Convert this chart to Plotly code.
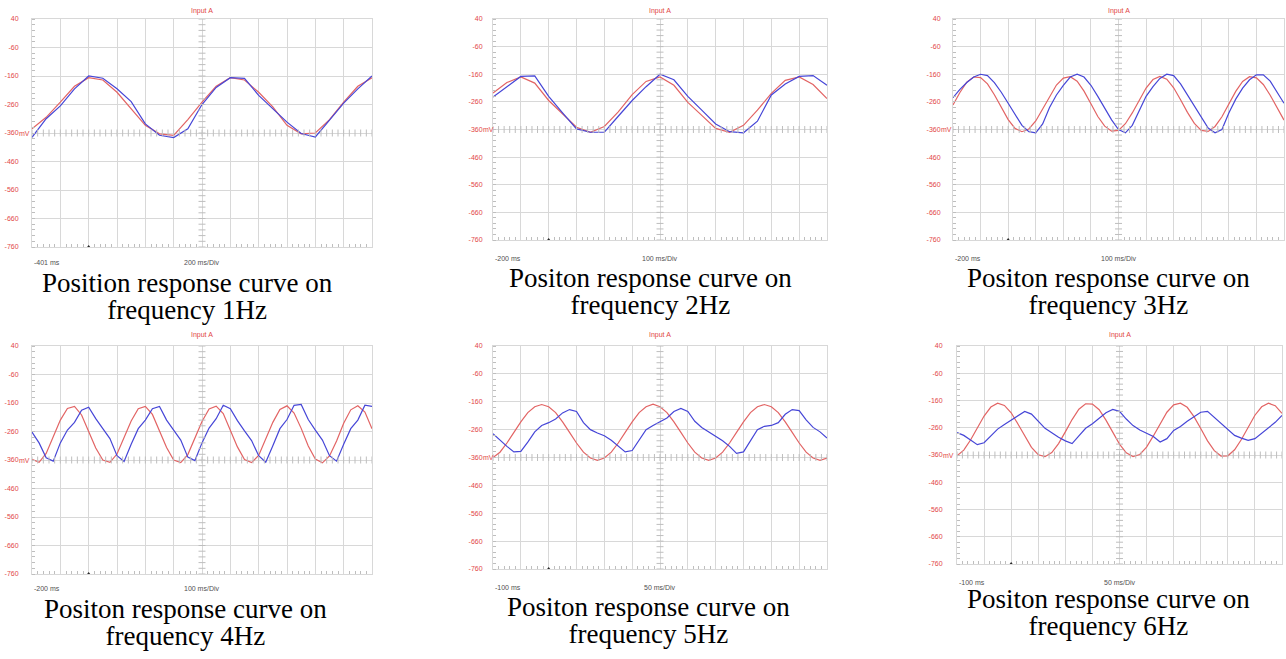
import plotly.graph_objects as go

W, H = 1286, 659

# ---------------- data (mV), one sample every "step" ms ----------------
# Panel 1: 1 Hz, 200 ms/Div, start -401 ms, sample every 100 ms
p1_t0, p1_div, p1_step = -401, 200, 100
p1_red = [-345, -305, -252, -196, -166, -174, -217, -277, -333, -363, -368, -313,
          -252, -196, -166, -174, -217, -268, -333, -363, -360, -313, -252, -196, -166]
p1_blue = [-375, -310, -265, -205, -160, -168, -205, -250, -328, -368, -376, -345,
           -260, -200, -166, -168, -228, -275, -322, -362, -374, -315, -255, -205, -160]

# Panel 2: 2 Hz, 100 ms/Div, start -200 ms, sample every 50 ms
p2_t0, p2_div, p2_step = -200, 100, 50
p2_red = [-228, -190, -170, -192, -255, -303, -352, -370, -349, -296, -234, -186,
          -170, -200, -262, -309, -356, -370, -345, -290, -229, -182, -170, -197, -248]
p2_blue = [-242, -205, -168, -166, -240, -300, -358, -370, -370, -312, -255, -205,
           -160, -180, -240, -290, -340, -368, -372, -330, -235, -195, -168, -165, -200]

# Panel 3: 3 Hz, 100 ms/Div, start -200 ms, sample every 25 ms
p3_t0, p3_div, p3_step = -200, 100, 25
p3_red = [-271, -226, -189, -170, -172, -195, -234, -281, -324, -356, -368, -358,
          -329, -286, -240, -199, -174, -169, -185, -221, -267, -313, -348, -366,
          -363, -339, -300, -253, -210, -179, -168, -178, -209, -252, -298, -338,
          -363, -367, -349, -314, -268, -222, -186, -169, -173, -197, -236, -283, -326]
p3_blue = [-245, -215, -190, -170, -160, -165, -190, -225, -265, -305, -345, -368,
           -372, -340, -280, -235, -200, -170, -160, -170, -200, -240, -285, -325,
           -360, -372, -345, -290, -240, -205, -175, -160, -165, -195, -235, -280,
           -320, -355, -372, -360, -300, -250, -210, -180, -162, -162, -185, -225, -265]

# Panel 4: 4 Hz, 100 ms/Div, start -200 ms, sample every 25 ms
p4_t0, p4_div, p4_step = -200, 100, 25
p4_red = [-358, -368, -337, -281, -220, -179, -172, -202, -258, -318, -360, -368,
          -339, -283, -223, -180, -172, -200, -256, -316, -360, -369, -341, -285,
          -225, -181, -171, -197, -253, -314, -358, -369, -344, -289, -228, -183,
          -170, -195, -249, -311, -357, -370, -346, -293, -231, -184, -170, -192, -250]
p4_blue = [-262, -300, -352, -364, -300, -255, -228, -185, -175, -215, -250, -285,
           -345, -365, -305, -250, -220, -180, -172, -220, -255, -290, -350, -362,
           -300, -248, -215, -168, -180, -222, -258, -292, -345, -368, -310, -250,
           -218, -168, -165, -218, -255, -290, -345, -364, -305, -250, -220, -168, -172]

# Panel 5: 5 Hz, 50 ms/Div, start -100 ms, sample every 12.5 ms
p5_t0, p5_div, p5_step = -100, 50, 12.5
p5_red = [-360, -341, -308, -270, -232, -199, -178, -170, -178, -199, -232, -270,
          -308, -341, -362, -370, -362, -341, -308, -270, -232, -199, -178, -169,
          -178, -199, -232, -270, -308, -341, -362, -370, -362, -341, -308, -270,
          -232, -199, -178, -170, -178, -199, -232, -270, -308, -341, -362, -370, -362]
p5_blue = [-275, -298, -320, -340, -338, -305, -268, -245, -235, -222, -200, -188,
           -195, -235, -260, -272, -282, -298, -320, -340, -335, -295, -260, -245,
           -232, -218, -195, -184, -195, -230, -252, -268, -283, -300, -320, -345,
           -340, -300, -260, -248, -245, -235, -205, -188, -192, -225, -252, -268, -290]

# Panel 6: 6 Hz, 50 ms/Div, start -100 ms, sample every 12.5 ms
p6_t0, p6_div, p6_step = -100, 50, 12.5
p6_red = [-363, -342, -305, -260, -217, -184, -170, -178, -205, -246, -291, -332,
          -359, -366, -351, -318, -275, -230, -192, -172, -173, -194, -232, -277,
          -320, -352, -366, -358, -331, -290, -244, -203, -176, -170, -185, -219,
          -263, -308, -344, -364, -363, -341, -303, -258, -214, -183, -170, -179, -207]
p6_blue = [-278, -288, -305, -322, -315, -290, -265, -248, -232, -215, -200, -210,
           -238, -262, -278, -295, -308, -318, -290, -262, -245, -226, -205, -193,
           -200, -228, -252, -268, -280, -292, -312, -300, -270, -255, -236, -220,
           -203, -200, -222, -245, -268, -288, -298, -306, -300, -280, -262, -240, -215]

y_ticks = [40, -60, -160, -260, -360, -460, -560, -660, -760]
y_tick_text = ["40", "-60", "-160", "-260", "-360", "-460", "-560", "-660", "-760"]

captions = [
    ("Position response curve on", "frequency 1Hz"),
    ("Positon response curve on", "frequency 2Hz"),
    ("Positon response curve on", "frequency 3Hz"),
    ("Positon response curve on", "frequency 4Hz"),
    ("Positon response curve on", "frequency 5Hz"),
    ("Positon response curve on", "frequency 6Hz"),
]

panels = [
    dict(t0=p1_t0, div=p1_div, step=p1_step, red=p1_red, blue=p1_blue, start="-401 ms", scale="200 ms/Div",
         box=(32, 372, 19, 247), gap=14, title_y=11, lab_y=262, cap_x=187, cap_y=297),
    dict(t0=p2_t0, div=p2_div, step=p2_step, red=p2_red, blue=p2_blue, start="-200 ms", scale="100 ms/Div",
         box=(493, 827, 19, 240), gap=11, title_y=11, lab_y=258, cap_x=650, cap_y=292),
    dict(t0=p3_t0, div=p3_div, step=p3_step, red=p3_red, blue=p3_blue, start="-200 ms", scale="100 ms/Div",
         box=(953, 1284, 19, 240), gap=13, title_y=11, lab_y=258, cap_x=1108, cap_y=292),
    dict(t0=p4_t0, div=p4_div, step=p4_step, red=p4_red, blue=p4_blue, start="-200 ms", scale="100 ms/Div",
         box=(32, 372, 346, 574), gap=14, title_y=335, lab_y=588, cap_x=185, cap_y=622),
    dict(t0=p5_t0, div=p5_div, step=p5_step, red=p5_red, blue=p5_blue, start="-100 ms", scale="50 ms/Div",
         box=(493, 827, 346, 569), gap=11, title_y=335, lab_y=587, cap_x=648, cap_y=620),
    dict(t0=p6_t0, div=p6_div, step=p6_step, red=p6_red, blue=p6_blue, start="-100 ms", scale="50 ms/Div",
         box=(957, 1282, 346, 564), gap=15, title_y=335, lab_y=582, cap_x=1108, cap_y=612),
]

RED_TXT = "rgb(226,70,70)"
RED_LINE = "rgb(226,100,100)"
BLUE_LINE = "rgb(70,70,215)"
GRID = "rgb(216,216,216)"
TICK = "rgb(190,190,190)"
LAB = "rgb(80,80,80)"

fig = go.Figure()
annotations = []


def px(x):
    return x / W


def py(y):
    return 1 - y / H


for i, p in enumerate(panels, start=1):
    xa = "x" if i == 1 else f"x{i}"
    ya = "y" if i == 1 else f"y{i}"
    t0, div, step = p["t0"], p["div"], p["step"]
    t_end = t0 + 12 * div
    times = [t0 + k * step for k in range(len(p["red"]))]
    fig.add_trace(go.Scatter(x=times, y=p["red"], mode="lines", xaxis=xa, yaxis=ya,
                             line=dict(color=RED_LINE, width=1.2), showlegend=False, hoverinfo="skip"))
    fig.add_trace(go.Scatter(x=times, y=p["blue"], mode="lines", xaxis=xa, yaxis=ya,
                             line=dict(color=BLUE_LINE, width=1.2), showlegend=False, hoverinfo="skip"))
    # centre cross minor ticks
    tc = t0 + 6 * div
    mx = [t0 + k * div / 5 for k in range(61)]
    fig.add_trace(go.Scatter(x=mx, y=[-360] * len(mx), mode="markers", xaxis=xa, yaxis=ya,
                             marker=dict(symbol="line-ns", size=5, line=dict(color=TICK, width=1)),
                             showlegend=False, hoverinfo="skip"))
    my = [-760 + k * 20 for k in range(41)]
    fig.add_trace(go.Scatter(x=[tc] * len(my), y=my, mode="markers", xaxis=xa, yaxis=ya,
                             marker=dict(symbol="line-ew", size=5, line=dict(color=TICK, width=1)),
                             showlegend=False, hoverinfo="skip"))
    # trigger marker
    fig.add_trace(go.Scatter(x=[t0 + 2 * div], y=[-760], mode="markers", xaxis=xa, yaxis=ya, cliponaxis=False,
                             marker=dict(symbol="triangle-up", size=4, color="rgb(40,40,40)"),
                             showlegend=False, hoverinfo="skip"))

    x0, x1, y0, y1 = p["box"]
    fig.update_layout(**{
        ("xaxis" if i == 1 else f"xaxis{i}"): dict(
            domain=[px(x0), px(x1)], anchor=ya, range=[t0, t_end], tick0=t0, dtick=div,
            showticklabels=False, showgrid=True, gridcolor=GRID, gridwidth=1, zeroline=False,
            showline=True, linecolor=GRID, mirror=True, ticks="", automargin=False,
            minor=dict(ticks="inside", dtick=div / 5, tick0=t0, ticklen=3, tickcolor=TICK, showgrid=False),
        ),
        ("yaxis" if i == 1 else f"yaxis{i}"): dict(
            domain=[py(y1), py(y0)], anchor=xa, range=[-760, 40], tickmode="array",
            tickvals=y_ticks, ticktext=y_tick_text, tickfont=dict(size=7, color=RED_TXT, family="Liberation Sans"),
            ticklabelstandoff=p["gap"] - 3, automargin=False,
            showgrid=True, gridcolor=GRID, gridwidth=1, zeroline=False,
            showline=True, linecolor=GRID, mirror=True, ticks="", ticklen=0,
            minor=dict(ticks="inside", dtick=20, tick0=40, ticklen=3, tickcolor=TICK, showgrid=False),
        ),
    })
    xm = (x0 + x1) / 2
    y360 = y0 + (40 - (-360)) / 800 * (y1 - y0)
    annotations.append(dict(x=px(x0 - p["gap"]), y=py(y360), xref="paper", yref="paper", text="mV",
                            showarrow=False, font=dict(size=7, color=RED_TXT, family="Liberation Sans"),
                            xanchor="left", yanchor="middle", xshift=-1))
    annotations.append(dict(x=px(xm), y=py(p["title_y"]), xref="paper", yref="paper", text="Input A",
                            showarrow=False, font=dict(size=7, color=RED_TXT, family="Liberation Sans"),
                            xanchor="center", yanchor="middle"))
    annotations.append(dict(x=px(x0), y=py(p["lab_y"]), xref="paper", yref="paper", text=p["start"],
                            showarrow=False, font=dict(size=7, color=LAB, family="Liberation Sans"),
                            xanchor="left", yanchor="middle"))
    annotations.append(dict(x=px(xm), y=py(p["lab_y"]), xref="paper", yref="paper", text=p["scale"],
                            showarrow=False, font=dict(size=7, color=LAB, family="Liberation Sans"),
                            xanchor="center", yanchor="middle"))
    c1, c2 = captions[i - 1]
    cap = (f"<span style='font-size:27px'>{c1}</span><br>"
           f"<span style='font-size:27px'>{c2}</span>")
    annotations.append(dict(x=px(p["cap_x"]), y=py(p["cap_y"]), xref="paper", yref="paper", text=cap,
                            showarrow=False, font=dict(size=21, color="black", family="Liberation Serif"),
                            xanchor="center", yanchor="middle"))

fig.update_layout(width=W, height=H, margin=dict(l=0, r=0, t=0, b=0, autoexpand=False), paper_bgcolor="white",
                  plot_bgcolor="white", annotations=annotations, showlegend=False)

fig.write_html("out.html", config={"displayModeBar": False},
               post_script="document.body.style.margin='0px';document.body.style.padding='0px';")
